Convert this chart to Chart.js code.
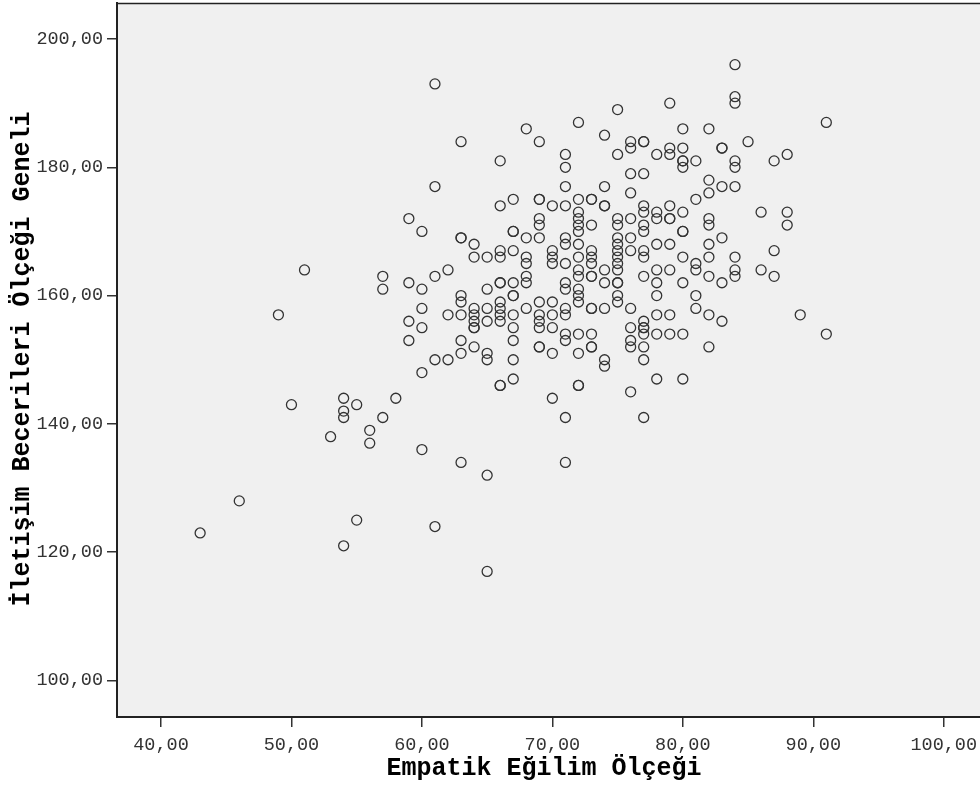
<!DOCTYPE html>
<html>
<head>
<meta charset="utf-8">
<script src="https://cdn.jsdelivr.net/npm/chart.js@4/dist/chart.umd.min.js"></script>
<style>
html,body{margin:0;padding:0;background:#fff;overflow:hidden;}
#wrap{width:980px;height:798px;position:relative;}
</style>
</head>
<body>
<div id="wrap"><canvas id="c" width="980" height="798"></canvas></div>
<script>
// Empatik Eğilim Ölçeği (x)
const empatik = [
  43, 46, 49, 50, 51, 53,
  54, 54, 54, 54,
  55, 55,
  56, 56,
  57, 57, 57,
  58,
  59, 59, 59, 59,
  60, 60, 60, 60, 60, 60,
  61, 61, 61, 61, 61,
  62, 62, 62,
  63, 63, 63, 63, 63, 63, 63, 63, 63,
  64, 64, 64, 64, 64, 64, 64, 64,
  65, 65, 65, 65, 65, 65, 65, 65,
  66, 66, 66, 66, 66, 66, 66, 66, 66, 66, 66, 66,
  67, 67, 67, 67, 67, 67, 67, 67, 67, 67, 67, 67,
  68, 68, 68, 68, 68, 68, 68,
  69, 69, 69, 69, 69, 69, 69, 69, 69, 69, 69, 69,
  70, 70, 70, 70, 70, 70, 70, 70, 70,
  71, 71, 71, 71, 71, 71, 71, 71, 71, 71, 71, 71, 71, 71, 71,
  72, 72, 72, 72, 72, 72, 72, 72, 72, 72, 72, 72, 72, 72, 72, 72, 72,
  73, 73, 73, 73, 73, 73, 73, 73, 73, 73, 73, 73, 73,
  74, 74, 74, 74, 74, 74, 74, 74, 74,
  75, 75, 75, 75, 75, 75, 75, 75, 75, 75, 75, 75, 75, 75,
  76, 76, 76, 76, 76, 76, 76, 76, 76, 76, 76, 76,
  77, 77, 77, 77, 77, 77, 77, 77, 77, 77, 77, 77, 77, 77, 77, 77, 77,
  78, 78, 78, 78, 78, 78, 78, 78, 78, 78,
  79, 79, 79, 79, 79, 79, 79, 79, 79, 79,
  80, 80, 80, 80, 80, 80, 80, 80, 80, 80, 80, 80,
  81, 81, 81, 81, 81, 81,
  82, 82, 82, 82, 82, 82, 82, 82, 82, 82,
  83, 83, 83, 83, 83, 83,
  84, 84, 84, 84, 84, 84, 84, 84, 84,
  85, 86, 86, 87, 87, 87, 88, 88, 88, 89, 91, 91
];
// İletişim Becerileri Ölçeği Geneli (y)
const iletisim = [
  123, 128, 157, 143, 164, 138,
  144, 142, 141, 121,
  143, 125,
  139, 137,
  163, 161, 141,
  144,
  172, 162, 156, 153,
  170, 161, 158, 155, 148, 136,
  193, 177, 163, 150, 124,
  164, 157, 150,
  184, 169, 169, 160, 159, 157, 153, 151, 134,
  168, 166, 158, 157, 156, 155, 155, 152,
  166, 161, 158, 156, 151, 150, 132, 117,
  181, 174, 167, 166, 162, 162, 159, 158, 157, 156, 146, 146,
  175, 170, 170, 167, 162, 160, 160, 157, 155, 153, 150, 147,
  186, 169, 166, 165, 163, 162, 158,
  184, 175, 175, 172, 171, 169, 159, 157, 156, 155, 152, 152,
  174, 167, 166, 165, 159, 157, 155, 151, 144,
  182, 180, 177, 174, 169, 168, 165, 162, 161, 158, 157, 154, 153, 141, 134,
  187, 175, 173, 172, 171, 170, 168, 166, 164, 163, 161, 160, 159, 154, 151, 146, 146,
  175, 175, 171, 167, 166, 165, 163, 163, 158, 158, 154, 152, 152,
  185, 177, 174, 174, 164, 162, 158, 150, 149,
  189, 182, 172, 171, 169, 168, 167, 166, 165, 164, 162, 162, 160, 159,
  184, 183, 179, 176, 172, 169, 167, 158, 155, 153, 152, 145,
  184, 184, 179, 174, 173, 171, 170, 167, 166, 163, 156, 155, 155, 154, 152, 150, 141,
  182, 173, 172, 168, 164, 162, 160, 157, 154, 147,
  190, 183, 182, 174, 172, 172, 168, 164, 157, 154,
  186, 183, 181, 181, 180, 173, 170, 170, 166, 162, 154, 147,
  181, 175, 165, 164, 160, 158,
  186, 178, 176, 172, 171, 168, 166, 163, 157, 152,
  183, 183, 177, 169, 162, 156,
  196, 191, 190, 181, 180, 177, 166, 164, 163,
  184, 173, 164, 181, 167, 163, 182, 173, 171, 157, 187, 154
];
const xTicks = [40, 50, 60, 70, 80, 90, 100];
const yTicks = [100, 120, 140, 160, 180, 200];
const xTitle = 'Empatik Eğilim Ölçeği';
const yTitle = 'İletişim Becerileri Ölçeği Geneli';

const points = empatik.map((x, i) => ({ x: x, y: iletisim[i] }));
const fmt = v => Number(v).toFixed(2).replace('.', ',');

const framePlugin = {
  id: 'frame',
  beforeDraw(chart) {
    const { ctx, chartArea: a } = chart;
    ctx.save();
    ctx.fillStyle = '#f0f0f0';
    ctx.fillRect(a.left, a.top, a.right - a.left, a.bottom - a.top);
    ctx.restore();
  },
  afterDraw(chart) {
    const { ctx, chartArea: a } = chart;
    ctx.save();
    ctx.strokeStyle = '#222';
    ctx.lineWidth = 1.5;
    ctx.beginPath();
    ctx.moveTo(a.left, a.top + 0.5);
    ctx.lineTo(a.right + 2, a.top + 0.5);
    ctx.stroke();
    // axis titles
    ctx.fillStyle = '#000';
    ctx.font = 'bold 25px "Liberation Mono", "Courier New", monospace';
    ctx.textAlign = 'center';
    ctx.textBaseline = 'alphabetic';
    ctx.fillText(xTitle, 544, 775);
    ctx.translate(29, 359);
    ctx.rotate(-Math.PI / 2);
    ctx.fillText(yTitle, 0, 0);
    ctx.restore();
  }
};

new Chart(document.getElementById('c'), {
  type: 'scatter',
  data: {
    datasets: [{
      data: points,
      pointStyle: 'circle',
      pointRadius: 5,
      pointHoverRadius: 5,
      borderWidth: 1.3,
      borderColor: '#333',
      backgroundColor: 'rgba(0,0,0,0)'
    }]
  },
  options: {
    responsive: false,
    animation: false,
    layout: { autoPadding: false, padding: { top: 3, left: 0, right: 0, bottom: 0 } },
    plugins: { legend: { display: false }, tooltip: { enabled: false } },
    scales: {
      x: {
        type: 'linear',
        position: 'bottom',
        min: 36.627,
        max: 102.78,
        afterBuildTicks: s => { s.ticks = xTicks.map(v => ({ value: v })); },
        afterFit: s => { s.height = 81; s.paddingLeft = 0; s.paddingRight = 0; },
        grid: { drawOnChartArea: false, drawTicks: true, tickLength: 10, color: '#333', lineWidth: 1.5 },
        border: { display: true, color: '#222', width: 2 },
        ticks: {
          autoSkip: false, maxRotation: 0, padding: 7,
          color: '#333',
          font: { family: '"Liberation Mono", "Courier New", monospace', size: 18.5 },
          callback: v => fmt(v)
        }
      },
      y: {
        type: 'linear',
        position: 'left',
        min: 94.31,
        max: 205.61,
        afterBuildTicks: s => { s.ticks = yTicks.map(v => ({ value: v })); },
        afterFit: s => { s.width = 117; s.paddingTop = 0; s.paddingBottom = 0; },
        grid: { drawOnChartArea: false, drawTicks: true, tickLength: 10, color: '#333', lineWidth: 1.5 },
        border: { display: true, color: '#222', width: 2 },
        ticks: {
          autoSkip: false, padding: 4,
          color: '#333',
          font: { family: '"Liberation Mono", "Courier New", monospace', size: 18.5 },
          callback: v => fmt(v)
        }
      }
    }
  },
  plugins: [framePlugin]
});
</script>
</body>
</html>
